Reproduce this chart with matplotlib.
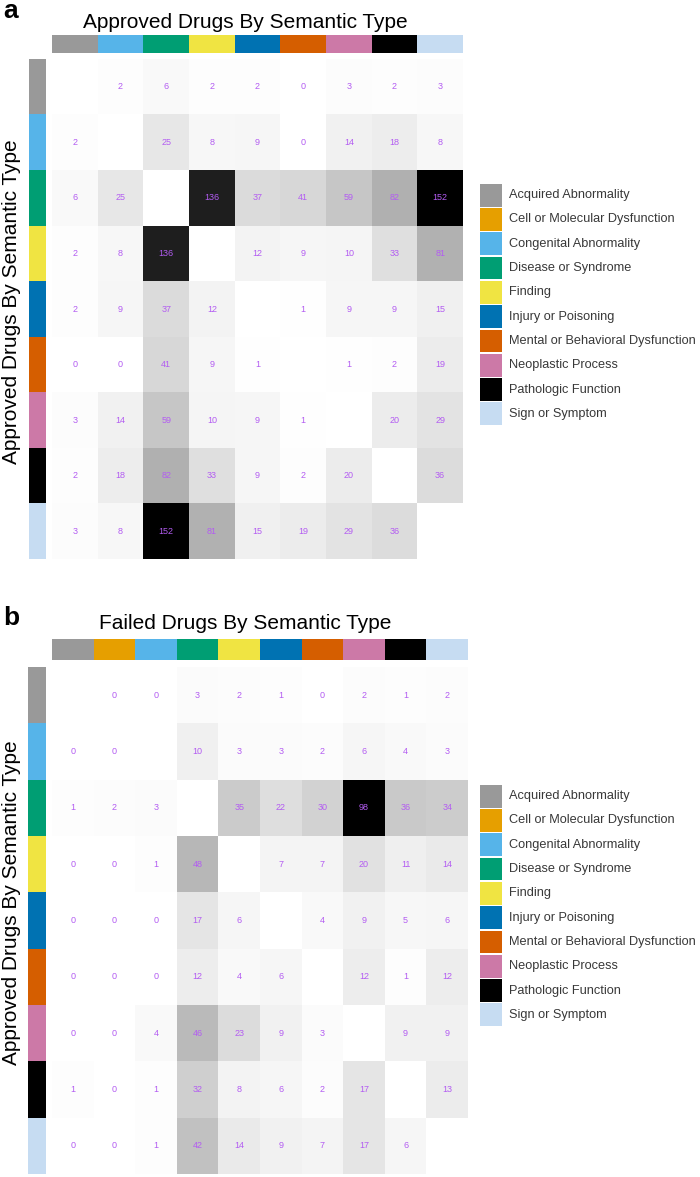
import numpy as np
import matplotlib
matplotlib.use('Agg')
import matplotlib.pyplot as plt
from matplotlib.colors import LinearSegmentedColormap, Normalize, to_rgb

plt.rcParams['font.family'] = ['Liberation Sans', 'DejaVu Sans']

# semantic types and their colours
all_types = ['Acquired Abnormality', 'Cell or Molecular Dysfunction', 'Congenital Abnormality',
             'Disease or Syndrome', 'Finding', 'Injury or Poisoning',
             'Mental or Behavioral Dysfunction', 'Neoplastic Process',
             'Pathologic Function', 'Sign or Symptom']
type_colors = ['#999999', '#E69F00', '#56B4E9', '#009E73', '#F0E442', '#0072B2',
               '#D55E00', '#CC79A7', '#000000', '#C6DCF2']

# panel a: approved drugs (no Cell or Molecular Dysfunction)
approved_types = ['Acquired Abnormality', 'Congenital Abnormality', 'Disease or Syndrome',
                  'Finding', 'Injury or Poisoning', 'Mental or Behavioral Dysfunction',
                  'Neoplastic Process', 'Pathologic Function', 'Sign or Symptom']
approved_counts = [
    [None, 2, 6, 2, 2, 0, 3, 2, 3],
    [2, None, 25, 8, 9, 0, 14, 18, 8],
    [6, 25, None, 136, 37, 41, 59, 82, 152],
    [2, 8, 136, None, 12, 9, 10, 33, 81],
    [2, 9, 37, 12, None, 1, 9, 9, 15],
    [0, 0, 41, 9, 1, None, 1, 2, 19],
    [3, 14, 59, 10, 9, 1, None, 20, 29],
    [2, 18, 82, 33, 9, 2, 20, None, 36],
    [3, 8, 152, 81, 15, 19, 29, 36, None],
]

# panel b: failed drugs (columns include Cell or Molecular Dysfunction)
failed_cols = all_types
failed_rows = approved_types
failed_counts = [
    [None, 0, 0, 3, 2, 1, 0, 2, 1, 2],
    [0, 0, None, 10, 3, 3, 2, 6, 4, 3],
    [1, 2, 3, None, 35, 22, 30, 98, 36, 34],
    [0, 0, 1, 48, None, 7, 7, 20, 11, 14],
    [0, 0, 0, 17, 6, None, 4, 9, 5, 6],
    [0, 0, 0, 12, 4, 6, None, 12, 1, 12],
    [0, 0, 4, 46, 23, 9, 3, None, 9, 9],
    [1, 0, 1, 32, 8, 6, 2, 17, None, 13],
    [0, 0, 1, 42, 14, 9, 7, 17, 6, None],
]

W, H = 700, 1177
fig = plt.figure(figsize=(W / 100, H / 100), dpi=100)

grey_ramp = LinearSegmentedColormap.from_list(
    'grey_ramp', [(0, 'white'), (0.6, '#a8a8a8'), (0.9, '#1e1e1e'), (1, 'black')])
grey_ramp.set_bad('white')


def px_axes(x0, y0, x1, y1):
    # axes from pixel box (top-left origin)
    return fig.add_axes([x0 / W, 1 - y1 / H, (x1 - x0) / W, (y1 - y0) / H])


def color_of(name):
    return to_rgb(type_colors[all_types.index(name)])


def draw_panel(counts, rows, cols, title, letter, heat, top, left, legend_top,
               title_base, letter_base, ylab_mid):
    data = np.array([[np.nan if v is None else v for v in r] for r in counts], dtype=float)
    ax = px_axes(*heat)
    ax.imshow(data, cmap=grey_ramp, norm=Normalize(0, np.nanmax(data)),
              aspect='auto', interpolation='nearest')
    for i in range(data.shape[0]):
        for j in range(data.shape[1]):
            if not np.isnan(data[i, j]):
                ax.text(j, i, '%d' % data[i, j], ha='center', va='center',
                        fontsize=6.5, color='#b35cf2')
    ax.axis('off')

    # column colour bar
    axt = px_axes(*top)
    axt.imshow([[color_of(c) for c in cols]], aspect='auto', interpolation='nearest')
    axt.axis('off')

    # row colour bar
    axl = px_axes(*left)
    axl.imshow([[color_of(r)] for r in rows], aspect='auto', interpolation='nearest')
    axl.axis('off')

    fig.text(245 / W, 1 - title_base / H, title, fontsize=15,
             ha='center', va='baseline')
    fig.text(12 / W, 1 - ylab_mid / H, 'Approved Drugs By Semantic Type',
             rotation=90, ha='center', va='center', fontsize=15)
    fig.text(3 / W, 1 - letter_base / H, letter, fontsize=19, fontweight='bold',
             ha='left', va='baseline')

    # legend
    step = 24.3
    axg = px_axes(480, legend_top, 502, legend_top + step * len(all_types))
    axg.barh(range(len(all_types)), 1, height=0.94, color=type_colors, left=0)
    axg.set_ylim(len(all_types) - 0.5, -0.5)
    axg.set_xlim(0, 1)
    axg.axis('off')
    for k, name in enumerate(all_types):
        axg.text(1.32, k, name, fontsize=9.2, va='center', ha='left', color='#383838',
                 transform=axg.transData, clip_on=False)


draw_panel(approved_counts, approved_types, approved_types,
           'Approved Drugs By Semantic Type', 'a',
           (52, 59, 463, 559), (52, 35, 463, 53), (29, 59, 46, 559), 183,
           28, 18, 302)
draw_panel(failed_counts, failed_rows, failed_cols,
           'Failed Drugs By Semantic Type', 'b',
           (52, 667, 468, 1174), (52, 639, 468, 660), (28, 667, 46, 1174), 784,
           629, 625, 903)

fig.savefig('out.png', dpi=100)
